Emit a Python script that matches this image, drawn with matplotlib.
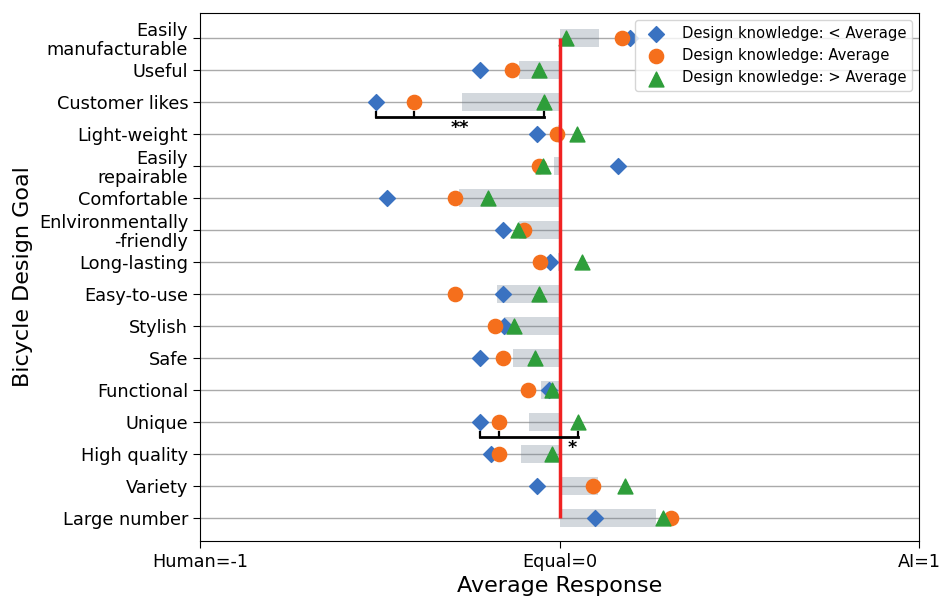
import numpy as np
import matplotlib
matplotlib.use("Agg")
import matplotlib.pyplot as plt

# design goals, top to bottom
goals = ['Easily\nmanufacturable', 'Useful', 'Customer likes', 'Light-weight',
         'Easily\nrepairable', 'Comfortable', 'Enlvironmentally\n-friendly',
         'Long-lasting', 'Easy-to-use', 'Stylish', 'Safe', 'Functional',
         'Unique', 'High quality', 'Variety', 'Large number']

# overall average (grey bars)
overall = [0.11, -0.114, -0.272, -0.005, -0.016, -0.281, -0.114, -0.005,
           -0.174, -0.154, -0.129, -0.051, -0.085, -0.108, 0.106, 0.268]

# average response per design knowledge group
below_avg = [0.196, -0.221, -0.511, -0.063, 0.163, -0.48, -0.157, -0.026,
             -0.157, -0.154, -0.222, -0.03, -0.222, -0.192, -0.063, 0.099]
avg = [0.174, -0.133, -0.405, -0.008, -0.056, -0.292, -0.098, -0.054,
       -0.292, -0.179, -0.156, -0.089, -0.169, -0.169, 0.093, 0.31]
above_avg = [0.017, -0.058, -0.043, 0.048, -0.046, -0.2, -0.115, 0.063,
             -0.056, -0.128, -0.068, -0.02, 0.05, -0.021, 0.182, 0.289]

# significance brackets: row, label, label x position
sig_rows = [2, 12]
sig_labels = ['**', '*']
sig_text_x = [-0.278, 0.036]

xticks = [-1, 0, 1]
xticklabels = ['Human=-1', 'Equal=0', 'AI=1']

c_blue = '#3a72c1'
c_orange = '#f56f1c'
c_green = '#2e9e3a'

y = np.arange(len(goals))

fig, ax = plt.subplots(figsize=(9.4, 5.97), dpi=100)
fig.subplots_adjust(left=0.2128, right=0.9777, top=0.978, bottom=0.094)

ax.grid(axis='y', color='#aaaaaa', linewidth=1, zorder=0)
ax.set_axisbelow(True)

ax.barh(y, overall, height=0.55, color='slategray', alpha=0.3, zorder=1)

ax.scatter(below_avg, y, marker='D', s=65, color=c_blue, zorder=3,
           label='Design knowledge: < Average')
ax.scatter(avg, y, marker='o', s=105, color=c_orange, zorder=4,
           label='Design knowledge: Average')
ax.scatter(above_avg, y, marker='^', s=115, color=c_green, zorder=5,
           label='Design knowledge: > Average')

ax.vlines(0, y[0], y[-1], color='#f02222', linewidth=2.5, zorder=6)

for r, lab, tx in zip(sig_rows, sig_labels, sig_text_x):
    xs = [below_avg[r], avg[r], above_avg[r]]
    yb = r + 0.47
    ax.plot([min(xs), max(xs)], [yb, yb], color='black', lw=2, zorder=7)
    for xv in xs:
        ax.plot([xv, xv], [yb, yb - 0.15], color='black', lw=1.6, zorder=7)
    ax.text(tx, r + 0.82, lab, ha='center', va='center', fontsize=12.5,
            fontweight='bold', zorder=7)

ax.set_yticks(y)
ax.set_yticklabels(goals, fontsize=12.8, linespacing=1.05)
ax.set_ylim(15.72, -0.78)
ax.set_xlim(-1, 1)
ax.set_xticks(xticks)
ax.set_xticklabels(xticklabels, fontsize=12.7)
ax.tick_params(axis='both', length=5)

ax.set_xlabel('Average Response', fontsize=16)
ax.set_ylabel('Bicycle Design Goal', fontsize=16)

ax.legend(loc='upper right', fontsize=10.6, borderaxespad=0.45,
          bbox_to_anchor=(1.0, 1.0))

fig.savefig('out.png', dpi=100)
